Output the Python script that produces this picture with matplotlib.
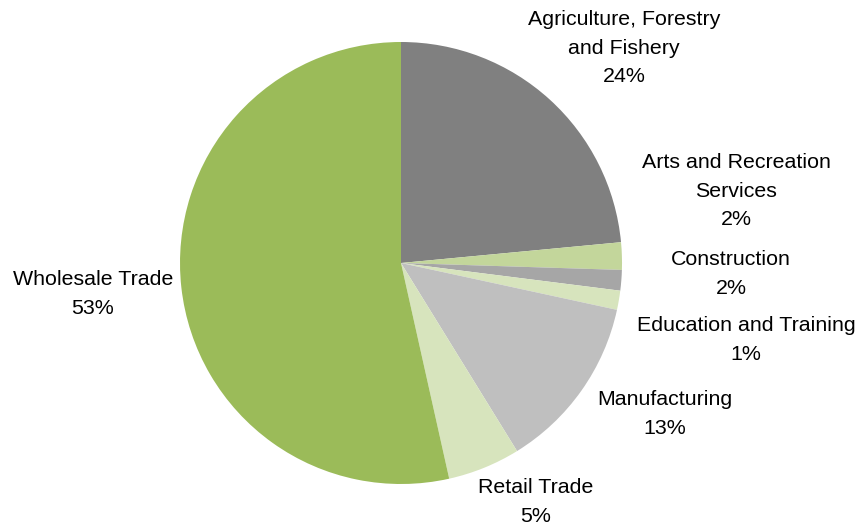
import matplotlib
matplotlib.use("Agg")
import matplotlib.pyplot as plt

categories = [
    "Agriculture, Forestry\nand Fishery",
    "Arts and Recreation\nServices",
    "Construction",
    "Education and Training",
    "Manufacturing",
    "Retail Trade",
    "Wholesale Trade",
]
shares = [23.5, 2.0, 1.5, 1.4, 12.8, 5.3, 53.5]
pct_labels = ["24%", "2%", "2%", "1%", "13%", "5%", "53%"]
colors = ["#808080", "#C3D69B", "#A6A6A6", "#D7E4BD", "#BFBFBF", "#D7E4BD", "#9BBB59"]

# label anchor points (pixels from top-left of the canvas)
label_px = [(624, 48), (736, 191), (731, 274), (746, 340), (665, 414), (536, 502), (93, 294)]

W, H = 858, 529
cx, cy, R = 401, 263, 221

plt.rcParams["font.family"] = ["Liberation Sans", "DejaVu Sans"]

fig = plt.figure(figsize=(W / 100, H / 100), dpi=100)
ax = fig.add_axes([0, 0, 1, 1])
ax.pie(shares, colors=colors, startangle=90, counterclock=False, radius=1.0,
       center=(0, 0), wedgeprops=dict(linewidth=0))
ax.set_aspect("auto")
ax.set_xlim(-cx / R, (W - cx) / R)
ax.set_ylim(-(H - cy) / R, cy / R)
ax.axis("off")

for name, pct, (px, py) in zip(categories, pct_labels, label_px):
    ax.text((px - cx) / R, (cy - py) / R, f"{name}\n{pct}", ha="center", va="center",
            fontsize=15.4, linespacing=1.62, color="#000000")

fig.savefig("out.png", dpi=100)
